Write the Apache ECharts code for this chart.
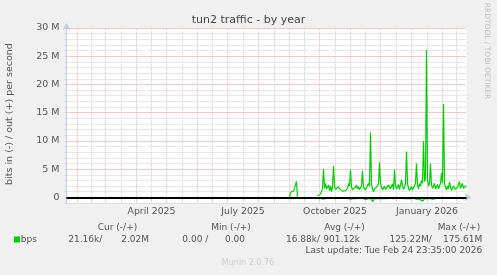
<!DOCTYPE html>
<html><head><meta charset="utf-8">
<script src="https://cdn.jsdelivr.net/npm/echarts@6/dist/echarts.min.js"></script>
<style>html,body{margin:0;padding:0;background:#f0f0f0}#c{width:497px;height:275px}</style>
</head><body><div id="c"></div>
<script>
// x axis: days since graph start (Jan 20 2025 23:35), 400 days total
const monthStartDays = [11.02, 39.02, 70.02, 100.02, 131.02, 161.02, 192.02, 223.02, 253.02, 284.02, 314.02, 345.02, 376.02];
const midMonthDays = [25.02, 54.52, 85.02, 115.52, 146.02, 176.52, 207.52, 238.02, 268.52, 299.02, 329.52, 360.52, 390.02];
const xLabelDays = [85.02, 176.52, 268.52, 360.52];
const xLabels = ['April 2025', 'July 2025', 'October 2025', 'January 2026'];
const yTickValues = [0, 5, 10, 15, 20, 25, 30];
const yTickLabels = ['0', '5 M', '10 M', '15 M', '20 M', '25 M', '30 M'];

// traffic in Mbit/s, out (+) and in (- , stored as magnitude)
const bumpStartDay = 223;
const bumpOut = [0, 0.9, 1.0, 1.0, 1.1, 1.3, 1.4, 2.8, 0];
const bumpIn = [0, 0.05, 0.05, 0.05, 0.05, 0.05, 0.05, 0.05, 0];
const mainStartDay = 251;
const mainOut = [
  0.3, 0.5, 0.5, 0.6, 0.7, 1.5, 5.0, 1.6, 2.5, 1.5,
  1.8, 2.2, 1.2, 2.0, 1.0, 1.8, 5.6, 2.0, 1.4, 1.6,
  1.2, 1.9, 1.5, 1.3, 1.4, 1.1, 1.3, 1.0, 1.2, 1.3,
  1.6, 2.5, 2.0, 4.9, 1.8, 1.4, 1.6, 1.3, 1.8, 2.2,
  1.5, 1.9, 1.4, 1.2, 2.0, 4.7, 1.8, 1.5, 1.3, 1.2,
  1.6, 2.5, 2.0, 11.5, 2.2, 1.5, 1.0, 1.5, 1.3, 1.6,
  2.0, 2.4, 6.2, 2.5, 1.8, 1.3, 1.6, 2.0, 1.4, 1.2,
  1.6, 2.2, 2.5, 1.5, 1.8, 2.4, 1.3, 4.9, 2.0, 1.5,
  1.8, 2.3, 1.4, 1.6, 3.1, 2.0, 1.4, 1.8, 2.5, 8.1,
  2.5, 1.6, 1.2, 1.5, 1.9, 1.3, 1.6, 2.0, 2.6, 6.0,
  2.2, 1.5, 2.4, 2.0, 3.0, 2.5, 10.0, 2.8, 3.5, 26.1,
  3.0, 2.0, 2.5, 6.0, 2.2, 1.6, 2.0, 2.5, 1.5, 1.8,
  2.3, 1.5, 2.0, 2.5, 4.3, 2.5, 16.6, 2.5, 1.8, 1.3,
  2.0, 1.5, 2.7, 1.8, 1.2, 1.6, 2.0, 2.2, 1.4, 1.2,
  1.8, 1.5, 2.8, 1.6, 1.3, 2.5, 1.6, 1.8, 2.0, 2.0
];
const mainIn = [
  0.05, 0.1, 0.15, 0.2, 0.15, 0.2, 0.3, 0.2, 0.25, 0.15,
  0.2, 0.25, 0.15, 0.2, 0.25, 0.15, 0.3, 0.25, 0.2, 0.15,
  0.2, 0.15, 0.25, 0.15, 0.2, 0.3, 0.35, 0.2, 0.15, 0.25,
  0.2, 0.25, 0.15, 0.3, 0.2, 0.15, 0.25, 0.2, 0.15, 0.25,
  0.3, 0.4, 0.2, 0.15, 0.25, 0.2, 0.15, 0.3, 0.35, 0.2,
  0.15, 0.25, 0.2, 0.3, 0.25, 0.75, 0.7, 0.25, 0.2, 0.15,
  0.25, 0.2, 0.3, 0.25, 0.15, 0.2, 0.25, 0.15, 0.2, 0.25,
  0.3, 0.2, 0.15, 0.25, 0.3, 0.25, 0.45, 0.25, 0.2, 0.15,
  0.25, 0.2, 0.15, 0.25, 0.2, 0.15, 0.3, 0.25, 0.2, 0.3,
  0.25, 0.2, 0.15, 0.25, 0.35, 0.2, 0.15, 0.25, 0.2, 0.3,
  0.25, 0.2, 0.3, 0.25, 0.35, 0.7, 0.4, 0.25, 0.3, 0.3,
  0.25, 0.2, 0.15, 0.25, 0.2, 0.25, 0.3, 0.35, 0.2, 0.15,
  0.2, 0.25, 0.15, 0.2, 0.25, 0.2, 0.3, 0.25, 0.15, 0.2,
  0.25, 0.2, 0.15, 0.25, 0.2, 0.15, 0.25, 0.2, 0.15, 0.2,
  0.2, 0.15, 0.25, 0.2, 0.15, 0.2, 0.25, 0.15, 0.1, 0.02
];

const legendHeaders = ['Cur (-/+)', 'Min (-/+)', 'Avg (-/+)', 'Max (-/+)'];
const legendName = 'bps';
const legendValues = ['21.16k/', '2.02M', '0.00 /', '0.00', '16.88k/', '901.12k', '125.22M/', '175.61M'];
const lastUpdate = 'Last update: Tue Feb 24 23:35:00 2026';

function buildSeries(segments) {
  const out = [];
  segments.forEach(function (s, k) {
    if (k > 0) out.push([s.start - 1, '-']);
    s.values.forEach(function (v, i) { out.push([s.start + i, s.sign * v]); });
  });
  return out;
}
const outData = buildSeries([{start: bumpStartDay, values: bumpOut, sign: 1}, {start: mainStartDay, values: mainOut, sign: 1}]);
const inData = buildSeries([{start: bumpStartDay, values: bumpIn, sign: -1}, {start: mainStartDay, values: mainIn, sign: -1}]);

const FONT = '"DejaVu Sans", sans-serif';
const TXT = '#555';
const RED = 'rgba(240,120,120,0.5)';
const GREY = 'rgba(190,190,190,0.7)';
const AXIS = '#c4c8ee';
const GREEN = '#00cc00';

const gridLines = [];
yTickValues.forEach(function (v) { gridLines.push({yAxis: v, lineStyle: {color: RED, type: [1, 1], width: 1}}); });
midMonthDays.forEach(function (d) { gridLines.push({xAxis: d, lineStyle: {color: GREY, type: [1, 1], width: 1}}); });
monthStartDays.forEach(function (d) { gridLines.push({xAxis: d, lineStyle: {color: RED, type: [1, 1], width: 1}}); });

const headerX = [117.5, 231, 344.5, 459];
const valueRightX = [102.3, 149, 208.3, 245, 320, 360, 431.7, 482.3];
const LFONT = '9px ' + FONT;
const graphics = [];
legendHeaders.forEach(function (t, i) {
  graphics.push({type: 'text', x: headerX[i], y: 227.5, style: {text: t, fill: TXT, font: LFONT, align: 'center', verticalAlign: 'middle'}});
});
graphics.push({type: 'rect', shape: {x: 14, y: 236.5, width: 6, height: 6}, style: {fill: GREEN}});
graphics.push({type: 'text', x: 20.7, y: 239.5, style: {text: legendName, fill: TXT, font: LFONT, align: 'left', verticalAlign: 'middle'}});
legendValues.forEach(function (t, i) {
  graphics.push({type: 'text', x: valueRightX[i], y: 239.5, style: {text: t, fill: TXT, font: LFONT, align: 'right', verticalAlign: 'middle'}});
});
graphics.push({type: 'text', x: 482.3, y: 251, style: {text: lastUpdate, fill: TXT, font: LFONT, align: 'right', verticalAlign: 'middle'}});
graphics.push({type: 'text', x: 248, y: 263, style: {text: 'Munin 2.0.76', fill: '#cccccc', font: '8px ' + FONT, align: 'center', verticalAlign: 'middle'}});
graphics.push({type: 'text', x: 10, y: 114, rotation: Math.PI / 2, style: {text: 'bits in (-) / out (+) per second', fill: TXT, font: '9.5px ' + FONT, align: 'center', verticalAlign: 'middle'}});
graphics.push({type: 'text', x: 487, y: 51, rotation: -Math.PI / 2, style: {text: 'RRDTOOL / TOBI OETIKER', fill: '#c0c0c0', font: '7.5px ' + FONT, align: 'center', verticalAlign: 'middle'}});

const chart = echarts.init(document.getElementById('c'), null, {renderer: 'canvas'});
chart.setOption({
  backgroundColor: '#f0f0f0',
  animation: false,
  title: {text: 'tun2 traffic - by year', left: 'center', top: 15, padding: 0,
    textStyle: {fontFamily: FONT, fontSize: 11, fontWeight: 'normal', color: '#444'}},
  grid: {left: 66.5, right: 30.5, top: 28, bottom: 72, backgroundColor: '#ffffff', show: true, borderWidth: 0},
  xAxis: {
    type: 'value', min: 0, max: 400,
    axisLine: {show: true, lineStyle: {color: AXIS, width: 1}, symbol: ['none', 'arrow'], symbolSize: [6, 7], symbolOffset: [0, 5]},
    axisTick: {show: true, length: 3, customValues: monthStartDays.concat(midMonthDays), lineStyle: {color: 'rgba(220,160,160,0.7)'}},
    axisLabel: {show: true, customValues: xLabelDays, margin: 4, color: TXT, fontFamily: FONT, fontSize: 9.3,
      formatter: function (v) {
        for (let i = 0; i < xLabelDays.length; i++) if (Math.abs(xLabelDays[i] - v) < 0.5) return xLabels[i];
        return '';
      }},
    splitLine: {show: false}
  },
  yAxis: {
    type: 'value', min: -1, max: 30, interval: 1,
    axisLine: {show: true, onZero: false, lineStyle: {color: AXIS, width: 1}, symbol: ['none', 'arrow'], symbolSize: [6, 7], symbolOffset: [0, 5]},
    axisTick: {show: true, length: 2, lineStyle: {color: '#d8d8d8'}},
    axisLabel: {show: true, customValues: yTickValues, margin: 7, color: TXT, fontFamily: FONT, fontSize: 9.5,
      formatter: function (v) { const i = yTickValues.indexOf(Math.round(v)); return i >= 0 ? yTickLabels[i] : ''; }},
    splitLine: {show: true, lineStyle: {color: GREY, type: [1, 1], width: 1}}
  },
  graphic: graphics,
  series: [
    {type: 'line', data: [], zlevel: 0, z: 1, silent: true,
      markLine: {zlevel: 0, z: 1, silent: true, symbol: ['none', 'none'], label: {show: false}, animation: false, data: gridLines}},
    {type: 'line', name: 'out', data: outData, zlevel: 1, z: 3, showSymbol: false, connectNulls: false,
      lineStyle: {color: GREEN, width: 1.2}, itemStyle: {color: GREEN}},
    {type: 'line', name: 'in', data: inData, zlevel: 1, z: 3, showSymbol: false, connectNulls: false,
      lineStyle: {color: GREEN, width: 1.2}, itemStyle: {color: GREEN}},
    {type: 'line', data: [], zlevel: 2, z: 5, silent: true,
      markLine: {zlevel: 2, z: 5, silent: true, symbol: ['none', 'none'], label: {show: false}, animation: false,
        data: [{yAxis: 0, lineStyle: {color: '#000000', type: 'solid', width: 2}}]}}
  ]
});
</script></body></html>
